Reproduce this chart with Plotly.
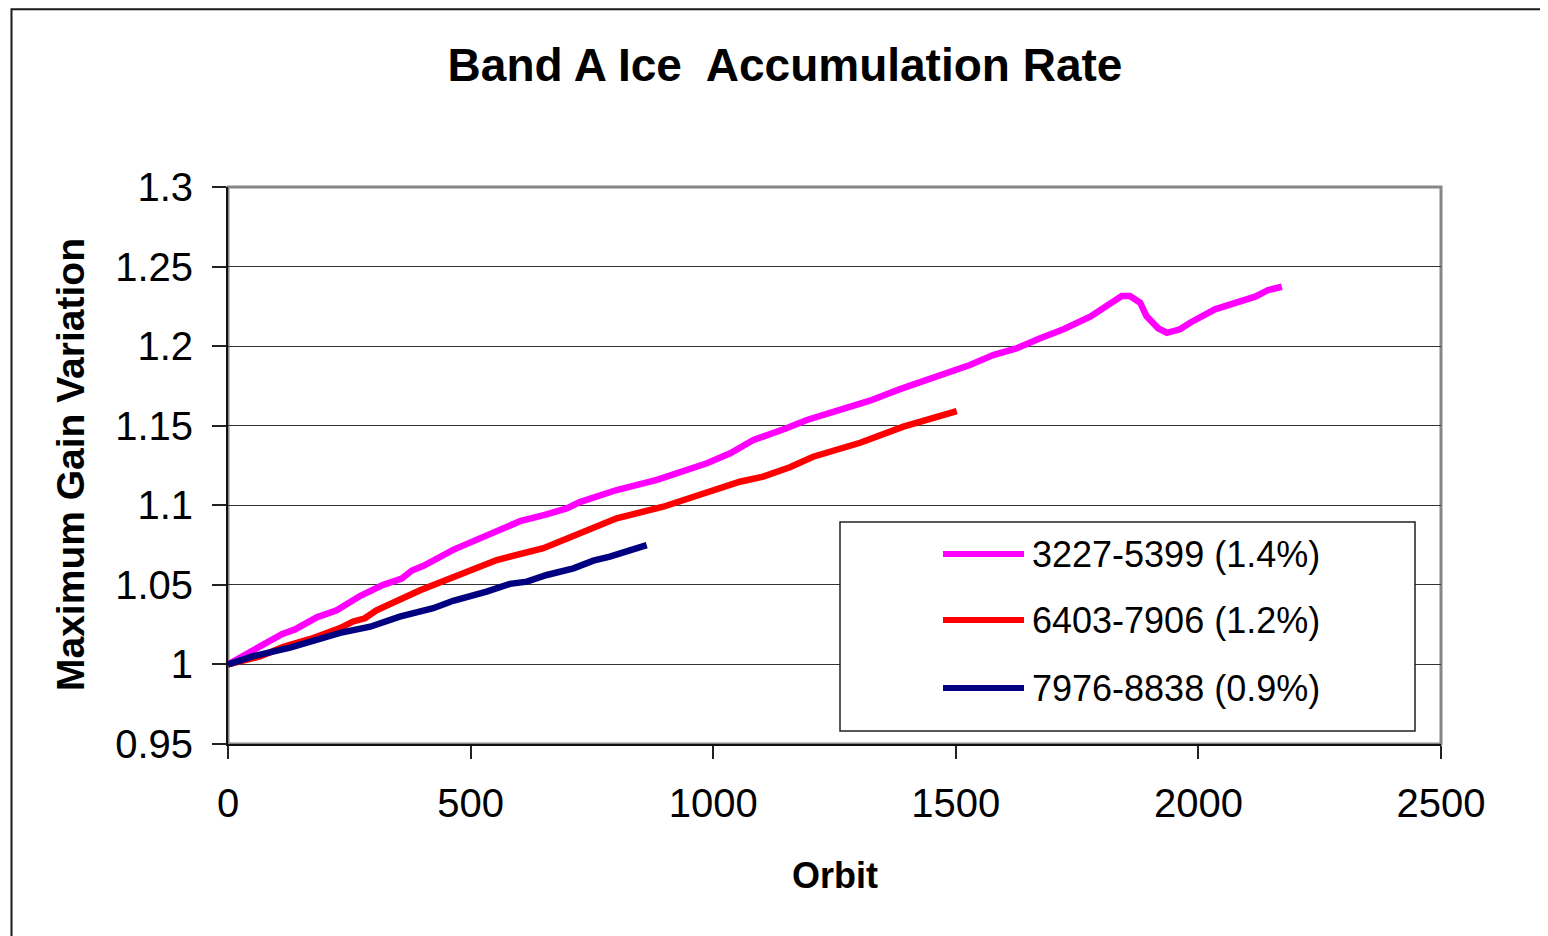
import plotly.graph_objects as go

# ---- data ----
series_names = ["3227-5399 (1.4%)", "6403-7906 (1.2%)", "7976-8838 (0.9%)"]
series_colors = ["#FF00FF", "#FF0000", "#000080"]

orbit_a = [0, 59, 111, 138, 183, 224, 272, 320, 358, 379, 403, 464, 547, 602, 653, 698, 725,
           801, 884, 987, 1035, 1083, 1151, 1193, 1261, 1323, 1385, 1467, 1529, 1577, 1625,
           1674, 1722, 1777, 1811, 1842, 1859, 1880, 1893, 1917, 1935, 1962, 1983, 2034,
           2117, 2144, 2172]
gain_a = [1.000, 1.010, 1.019, 1.022, 1.0296, 1.034, 1.043, 1.050, 1.054, 1.059, 1.062, 1.072,
          1.083, 1.090, 1.094, 1.098, 1.102, 1.1096, 1.116, 1.1264, 1.1327, 1.141, 1.1484,
          1.1536, 1.160, 1.1657, 1.1730, 1.1812, 1.1881, 1.1944, 1.1986, 1.2049, 1.2106,
          1.2185, 1.2252, 1.2315, 1.2315, 1.2273, 1.2189, 1.2112, 1.2084, 1.2106, 1.2147,
          1.2231, 1.2311, 1.2353, 1.2373]

orbit_b = [0, 66, 114, 170, 231, 258, 282, 306, 396, 464, 554, 650, 725, 801, 897, 987, 1055,
           1103, 1158, 1206, 1303, 1392, 1502]
gain_b = [1.000, 1.005, 1.011, 1.016, 1.0228, 1.027, 1.029, 1.034, 1.0466, 1.055, 1.0656, 1.073,
          1.0824, 1.0918, 1.0991, 1.1085, 1.1148, 1.118, 1.1239, 1.1305, 1.1393, 1.1494, 1.1592]

orbit_c = [0, 52, 128, 183, 231, 293, 354, 423, 464, 533, 581, 616, 657, 712, 753, 787, 863]
gain_c = [1.000, 1.0052, 1.0105, 1.016, 1.0198, 1.0237, 1.030, 1.0353, 1.040, 1.0457, 1.0506,
          1.052, 1.0562, 1.0604, 1.0652, 1.0677, 1.075]

x_ticks = [0, 500, 1000, 1500, 2000, 2500]
y_ticks = [0.95, 1.0, 1.05, 1.1, 1.15, 1.2, 1.25, 1.3]
y_tick_labels = ["0.95", "1", "1.05", "1.1", "1.15", "1.2", "1.25", "1.3"]

FONT = "Liberation Sans, Arial, sans-serif"

fig = go.Figure()
for xs, ys, name, col in zip([orbit_a, orbit_b, orbit_c], [gain_a, gain_b, gain_c],
                             series_names, series_colors):
    fig.add_trace(go.Scatter(x=xs, y=ys, mode="lines", name=name,
                             line=dict(color=col, width=6.5), showlegend=False))

# page offset of the figure (browser body margin)
OFF = 8
W, H = 1548 - OFF, 936 - OFF
L, R, T, B = 228, 1441, 187, 744          # plot area in page pixels
pw, ph = R - L, B - T


def px(x):
    return (x - L) / pw


def py(y):
    return (B - y) / ph


shapes = []
# outer chart frame (left and top edges visible)
shapes.append(dict(type="rect", xref="paper", yref="paper",
                   x0=px(11.5), x1=px(1600), y0=py(1000), y1=py(9.2),
                   line=dict(color="#1a1a1a", width=2), layer="below"))
# plot area frame (gray)
shapes.append(dict(type="rect", xref="paper", yref="paper", x0=0, x1=1, y0=0, y1=1,
                   line=dict(color="#868686", width=3), layer="below"))

# legend box
shapes.append(dict(type="rect", xref="paper", yref="paper",
                   x0=px(840), x1=px(1415), y0=py(731), y1=py(522),
                   line=dict(color="#222222", width=1.5), fillcolor="white", layer="above"))
annotations = []
leg_y = [554, 620, 688]
for name, col, yy in zip(series_names, series_colors, leg_y):
    shapes.append(dict(type="line", xref="paper", yref="paper",
                       x0=px(943), x1=px(1024), y0=py(yy), y1=py(yy),
                       line=dict(color=col, width=6), layer="above"))
    annotations.append(dict(text=name, xref="paper", yref="paper", x=px(1030), y=py(yy),
                            xanchor="left", yanchor="middle", showarrow=False,
                            font=dict(family=FONT, size=36, color="black")))

# axis titles
annotations.append(dict(text="<b>Orbit</b>", xref="paper", yref="paper", x=px(835), y=py(875),
                        xanchor="center", yanchor="middle", showarrow=False,
                        font=dict(family=FONT, size=36, color="black")))
annotations.append(dict(text="<b>Maximum Gain Variation</b>", xref="paper", yref="paper",
                        x=px(70), y=py(465), xanchor="center", yanchor="middle",
                        showarrow=False, textangle=-90,
                        font=dict(family=FONT, size=39, color="black")))

fig.update_layout(
    width=W, height=H,
    margin=dict(l=L - OFF, r=W - (R - OFF), t=T - OFF, b=H - (B - OFF), autoexpand=False),
    paper_bgcolor="white", plot_bgcolor="white",
    title=dict(text="<b>Band A Ice  Accumulation Rate</b>", xref="container", yref="container",
               x=(785 - OFF) / W, y=1 - (65 - OFF) / H, xanchor="center", yanchor="middle",
               font=dict(family=FONT, size=46, color="black")),
    shapes=shapes, annotations=annotations,
    font=dict(family=FONT, color="black"),
)
fig.update_xaxes(range=[0, 2500], tickvals=x_ticks, ticks="outside", ticklen=13,
                 tickcolor="#222", tickwidth=1.5, showgrid=False, zeroline=False,
                 showline=True, linecolor="#111", linewidth=2,
                 tickfont=dict(family=FONT, size=40, color="black"), ticklabelstandoff=10)
fig.update_yaxes(range=[0.95, 1.3], tickvals=y_ticks, ticktext=y_tick_labels,
                 ticks="outside", ticklen=14, tickcolor="#222", tickwidth=1.5,
                 showgrid=True, gridcolor="#333333", gridwidth=1.2, zeroline=False,
                 showline=True, linecolor="#111", linewidth=2,
                 tickfont=dict(family=FONT, size=40, color="black"), ticklabelstandoff=11)

fig.write_html("out.html")
